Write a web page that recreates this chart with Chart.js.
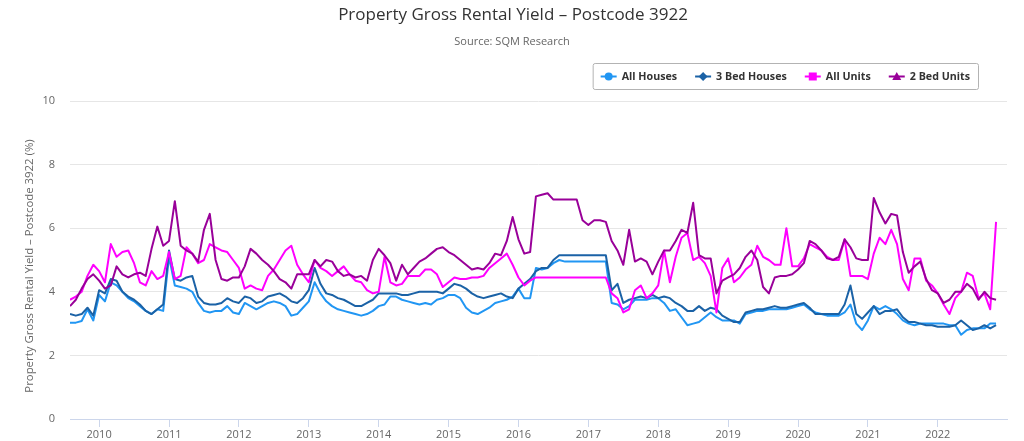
<!DOCTYPE html>
<html>
<head>
<meta charset="utf-8">
<script src="https://cdn.jsdelivr.net/npm/chart.js@4.4.0/dist/chart.umd.min.js"></script>
<style>
  html, body { margin: 0; padding: 0; background: #fff; }
  #myChart { display: block; }
</style>
</head>
<body>
<canvas id="myChart" width="1024" height="441"></canvas>
<script>
// monthly readings, first one is Aug 2009
var firstYear = 2009, firstMonth = 8;
var tickYears = [2010, 2011, 2012, 2013, 2014, 2015, 2016, 2017, 2018, 2019, 2020, 2021, 2022];

var allHouses = [
  3.03,3.03,3.08,3.45,3.1,3.9,3.7,4.3,4.2,4.0,3.8,3.7,3.55,3.4,3.3,3.45,3.4,5.1,4.2,4.15,4.1,4.0,3.65,3.4,3.35,3.4,
  3.4,3.55,3.35,3.3,3.65,3.55,3.45,3.55,3.65,3.7,3.65,3.55,3.25,3.3,3.5,3.7,4.3,3.95,3.7,3.55,3.45,3.4,3.35,3.3,3.25,3.3,
  3.4,3.55,3.6,3.85,3.85,3.75,3.7,3.65,3.6,3.65,3.6,3.75,3.8,3.9,3.9,3.8,3.5,3.35,3.3,3.4,3.5,3.65,3.7,3.75,3.85,4.1,
  3.8,3.8,4.75,4.7,4.75,4.9,5.0,4.95,4.95,4.95,4.95,4.95,4.95,4.95,4.95,3.65,3.6,3.45,3.55,3.75,3.75,3.75,3.8,3.8,3.65,3.4,
  3.45,3.2,2.95,3.0,3.05,3.2,3.35,3.2,3.1,3.1,3.1,3.0,3.3,3.35,3.4,3.4,3.45,3.45,3.45,3.45,3.5,3.55,3.6,3.45,3.35,3.3,
  3.25,3.25,3.25,3.35,3.6,3.0,2.8,3.1,3.55,3.45,3.55,3.45,3.3,3.1,3.0,2.95,3.0,3.0,3.0,3.0,3.0,2.95,2.95,2.65,2.8,2.85,2.85,2.85,3.0,3.0
];
var threeBedHouses = [
  3.3,3.25,3.3,3.5,3.25,4.05,3.95,4.4,4.35,4.0,3.85,3.75,3.6,3.4,3.3,3.45,3.6,5.3,4.4,4.35,4.45,4.5,3.85,3.65,3.6,3.6,
  3.65,3.8,3.7,3.65,3.85,3.8,3.65,3.7,3.85,3.9,3.95,3.85,3.7,3.65,3.8,4.05,4.75,4.25,3.95,3.9,3.8,3.75,3.65,3.55,3.55,3.65,
  3.75,3.95,3.95,3.95,3.95,3.9,3.9,3.95,4.0,4.0,4.0,4.0,3.95,4.1,4.25,4.2,4.1,3.95,3.85,3.8,3.85,3.9,3.95,3.85,3.8,4.1,
  4.25,4.4,4.65,4.75,4.75,5.0,5.15,5.15,5.15,5.15,5.15,5.15,5.15,5.15,5.15,4.05,4.25,3.65,3.75,3.8,3.85,3.8,3.9,3.8,3.85,3.8,
  3.65,3.55,3.4,3.4,3.55,3.4,3.5,3.45,3.25,3.15,3.05,3.05,3.35,3.4,3.45,3.45,3.5,3.55,3.5,3.5,3.55,3.6,3.65,3.5,3.3,3.3,
  3.3,3.3,3.3,3.6,4.2,3.3,3.15,3.35,3.55,3.3,3.4,3.4,3.45,3.2,3.05,3.05,3.0,2.95,2.95,2.9,2.9,2.9,2.95,3.1,2.95,2.8,2.85,2.95,2.85,2.95
];
var allUnits = [
  3.75,3.85,4.0,4.5,4.85,4.65,4.3,5.5,5.1,5.25,5.3,4.9,4.3,4.2,4.65,4.4,4.5,5.25,4.4,4.5,5.4,5.2,4.9,5.0,5.5,5.4,
  5.3,5.25,5.0,4.75,4.1,4.2,4.1,4.05,4.5,4.7,5.0,5.3,5.45,4.85,4.55,4.3,5.0,4.75,4.65,4.5,4.65,4.8,4.55,4.35,4.3,4.05,
  3.95,4.0,5.1,4.3,4.2,4.25,4.5,4.5,4.5,4.7,4.7,4.55,4.15,4.3,4.45,4.4,4.4,4.45,4.45,4.5,4.75,4.9,5.05,5.2,4.85,4.45,
  4.2,4.35,4.45,4.45,4.45,4.45,4.45,4.45,4.45,4.45,4.45,4.45,4.45,4.45,4.45,3.95,3.8,3.35,3.45,4.05,4.2,3.8,3.95,4.2,5.3,4.3,
  5.1,5.7,5.85,5.0,5.1,4.9,4.5,3.35,4.75,5.05,4.3,4.45,4.7,4.85,5.45,5.1,5.0,4.85,4.85,6.0,4.8,4.8,5.05,5.5,5.4,5.3,
  5.1,5.0,5.0,5.65,4.5,4.5,4.5,4.4,5.2,5.7,5.5,5.95,5.5,4.4,4.05,5.05,5.05,4.35,4.2,3.95,3.6,3.3,3.8,4.0,4.6,4.5,3.8,3.95,3.45,6.2
];
var twoBedUnits = [
  3.55,3.75,4.1,4.4,4.55,4.35,4.1,4.2,4.8,4.55,4.45,4.55,4.6,4.5,5.35,6.05,5.45,5.6,6.85,5.45,5.3,5.2,4.95,5.95,6.45,5.0,
  4.4,4.35,4.45,4.45,4.8,5.35,5.2,5.0,4.85,4.65,4.4,4.3,4.1,4.55,4.55,4.55,5.0,4.8,5.0,4.95,4.65,4.5,4.55,4.45,4.5,4.35,
  5.0,5.35,5.15,4.9,4.35,4.85,4.55,4.75,4.95,5.05,5.2,5.35,5.4,5.25,5.15,5.0,4.85,4.7,4.75,4.7,4.9,5.2,5.15,5.6,6.35,5.65,
  5.2,5.25,7.0,7.05,7.1,6.9,6.9,6.9,6.9,6.9,6.25,6.1,6.25,6.25,6.2,5.6,5.3,4.85,5.95,4.95,5.05,4.95,4.55,4.95,5.3,5.3,
  5.6,5.95,5.85,6.8,5.15,5.05,5.05,3.95,4.35,4.45,4.55,4.75,5.1,5.3,5.0,4.15,3.95,4.45,4.5,4.5,4.55,4.7,4.9,5.6,5.5,5.3,
  5.05,5.0,5.1,5.65,5.4,5.05,5.0,5.0,6.95,6.5,6.15,6.45,6.4,5.25,4.6,4.8,4.95,4.4,4.05,3.95,3.65,3.75,4.0,4.0,4.25,4.1,3.75,4.0,3.8,3.75
];

var seriesNames = ['All Houses', '3 Bed Houses', 'All Units', '2 Bed Units'];
var seriesColors = ['#2196f3', '#1b62a6', '#ff00ff', '#990099'];
var seriesSymbols = ['circle', 'diamond', 'square', 'triangle'];

var FONT = '"Open Sans", "Liberation Sans", sans-serif';

function toPoints(values) {
  return values.map(function (v, i) {
    return { x: firstYear + (firstMonth - 1 + i) / 12, y: v };
  });
}

var allSeries = [allHouses, threeBedHouses, allUnits, twoBedUnits];
var datasets = allSeries.map(function (vals, k) {
  return {
    label: seriesNames[k],
    data: toPoints(vals),
    borderColor: seriesColors[k],
    backgroundColor: seriesColors[k],
    borderWidth: 2,
    pointRadius: 0,
    tension: 0,
    borderJoinStyle: 'round',
    order: 4 - k
  };
});

function drawSymbol(ctx, type, x, y) {
  ctx.beginPath();
  if (type == 'circle') {
    ctx.arc(x, y, 4, 0, Math.PI * 2);
  } else if (type == 'diamond') {
    ctx.moveTo(x, y - 4.5); ctx.lineTo(x + 4.5, y); ctx.lineTo(x, y + 4.5); ctx.lineTo(x - 4.5, y);
    ctx.closePath();
  } else if (type == 'square') {
    ctx.rect(x - 4, y - 4, 8, 8);
  } else {
    ctx.moveTo(x, y - 4.5); ctx.lineTo(x + 4.5, y + 3.5); ctx.lineTo(x - 4.5, y + 3.5);
    ctx.closePath();
  }
  ctx.fill();
}

// title, subtitle, y-axis title and the boxed legend
var decorations = {
  id: 'decorations',
  afterDraw: function (chart) {
    var ctx = chart.ctx;
    var area = chart.chartArea;
    ctx.save();
    ctx.textBaseline = 'middle';
    ctx.textAlign = 'center';
    ctx.fillStyle = '#333333';
    ctx.font = '17px ' + FONT;
    ctx.fillText('Property Gross Rental Yield \u2013 Postcode 3922', 513, 15);
    ctx.fillStyle = '#666666';
    ctx.font = '11px ' + FONT;
    ctx.fillText('Source: SQM Research', 512, 42);

    ctx.save();
    ctx.translate(30, (area.top + area.bottom) / 2 + 6);
    ctx.rotate(-Math.PI / 2);
    ctx.font = '11.4px ' + FONT;
    ctx.fillText('Property Gross Rental Yield \u2013 Postcode 3922 (%)', 0, 0);
    ctx.restore();

    // legend
    ctx.font = 'bold 10.7px ' + FONT;
    var pad = 8, sym = 16, gap = 5, itemGap = 18;
    var widths = seriesNames.map(function (n) { return ctx.measureText(n).width; });
    var total = pad * 2 + itemGap * (seriesNames.length - 1);
    widths.forEach(function (w) { total += sym + gap + w; });
    var right = 978, top = 63, h = 26;
    var left = right - total;
    ctx.strokeStyle = '#b3b3b3';
    ctx.lineWidth = 1;
    ctx.beginPath();
    ctx.roundRect(left + 0.5, top + 0.5, total, h, 2);
    ctx.stroke();
    var cy = top + h / 2 + 0.5;
    var x = left + pad;
    ctx.textAlign = 'left';
    seriesNames.forEach(function (n, k) {
      ctx.strokeStyle = seriesColors[k];
      ctx.fillStyle = seriesColors[k];
      ctx.lineWidth = 2;
      ctx.beginPath();
      ctx.moveTo(x, cy); ctx.lineTo(x + sym, cy);
      ctx.stroke();
      drawSymbol(ctx, seriesSymbols[k], x + sym / 2, cy);
      ctx.fillStyle = '#333333';
      ctx.fillText(n, x + sym + gap, cy);
      x += sym + gap + widths[k] + itemGap;
    });
    ctx.restore();
  }
};

var chart = new Chart(document.getElementById('myChart'), {
  type: 'line',
  data: { datasets: datasets },
  options: {
    responsive: false,
    animation: false,
    devicePixelRatio: 1,
    layout: { padding: { top: 101, right: 17, left: 0, bottom: 0 } },
    plugins: {
      legend: { display: false },
      title: { display: false },
      tooltip: { enabled: false }
    },
    scales: {
      x: {
        type: 'linear',
        min: firstYear + (firstMonth - 1) / 12,
        max: 2022.99,
        afterBuildTicks: function (scale) {
          scale.ticks = tickYears.map(function (y) { return { value: y }; });
        },
        afterFit: function (scale) { scale.height = 22; },
        border: { display: true, color: '#ccd6eb', width: 1 },
        grid: { drawOnChartArea: false, drawTicks: true, tickLength: 8, color: '#ccd6eb' },
        ticks: {
          color: '#666666',
          font: { family: FONT, size: 11 },
          padding: 1,
          maxRotation: 0,
          autoSkip: false,
          callback: function (v) { return String(v); }
        }
      },
      y: {
        min: 0,
        max: 10,
        afterFit: function (scale) { scale.width = 70; },
        border: { display: false },
        grid: { color: '#e6e6e6', drawTicks: false },
        ticks: {
          stepSize: 2,
          color: '#666666',
          font: { family: FONT, size: 11 },
          padding: 15
        }
      }
    }
  },
  plugins: [decorations]
});
</script>
</body>
</html>
